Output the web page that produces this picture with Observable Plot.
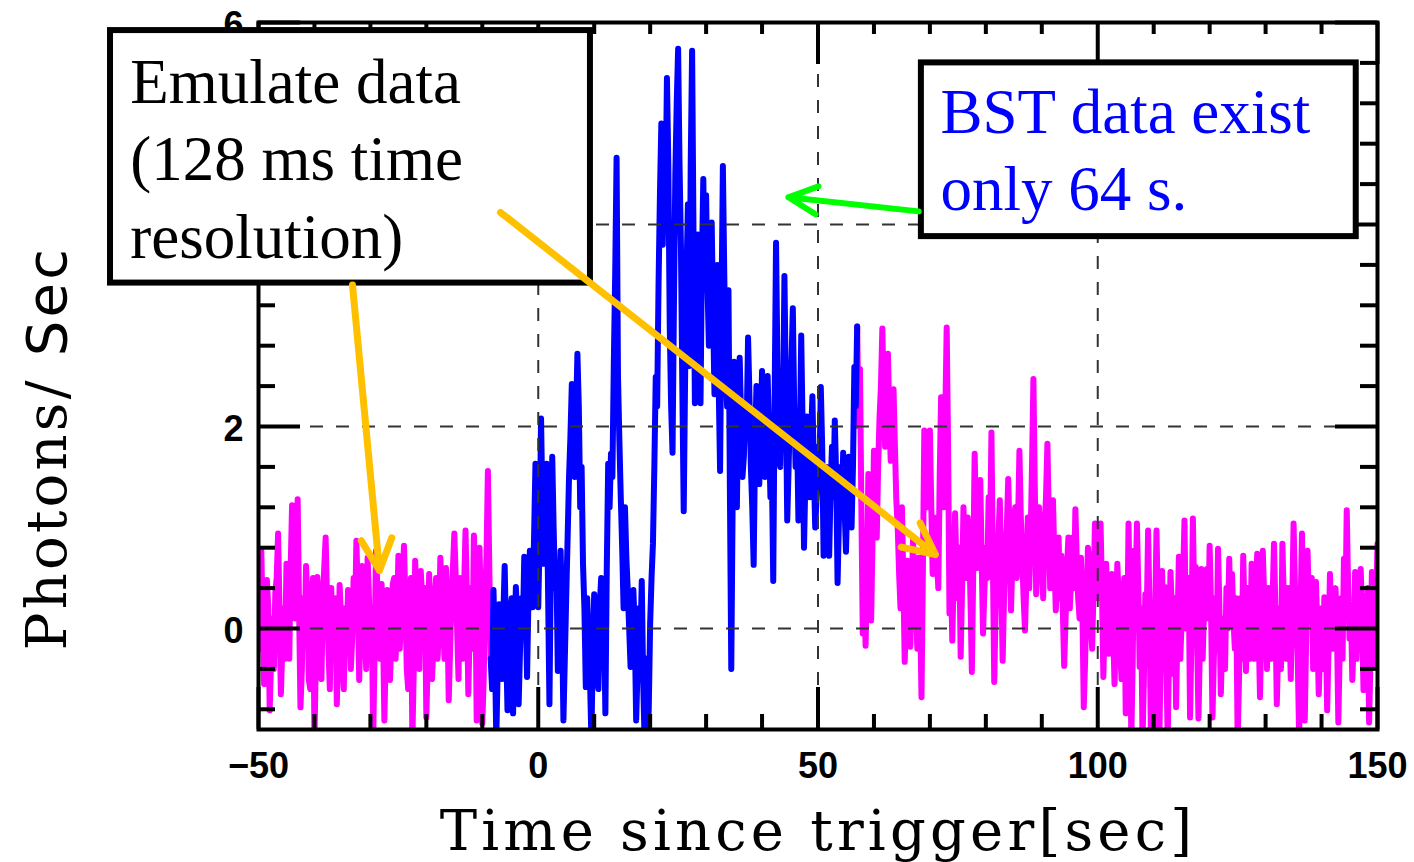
<!DOCTYPE html>
<html><head><meta charset="utf-8">
<script src="https://cdn.jsdelivr.net/npm/d3@7"></script>
<script src="https://cdn.jsdelivr.net/npm/@observablehq/plot@0.6"></script>
<style>html,body{margin:0;padding:0;background:#fff;} #chart svg{display:block}</style>
</head><body><div id="chart"></div>
<script>
// ---- data (read/estimated from the picture) ----
const sampleStep = 0.25;           // seconds between read samples
const preStart = -50;              // emulated data before BST (magenta)
const bstStart = -8.5;             // BST data (blue)
const postStart = 57;              // emulated data after BST (magenta)

const preValues = [
  0.3, -0.2, 0.77, 0.1, -0.55, -0.1, 0.48, 0.2, -0.81, -0.3, 0.1, -0.4, 0.35, 0.5, 0.94, 0.2, -0.65, -0.2, 0.2, -0.3,
  0.64, 0.4, -0.3, 0.6, 1.22, 0.5, 0.1, 0.7, 1.28, 0.2, -0.78, -0.4, 0.3, -0.1, 0.62, 0.3, -0.51, -0.6, 0.2, 0.5,
  -1.1, -0.3, 0.51, 0.3, -0.18, -0.5, 0.3, 0.6, 0.9, 0.3, -0.2, -0.6, 0.4, -0.3, 0.1, 0.3, -0.75, -0.2, 0.43, 0.1,
  -0.35, -0.6, 0.2, -0.2, 0.38, 0.1, -0.4, -0.1, 0.5, 0.1, 0.87, 0.3, -0.51, 0.0, 0.62, 0.2, 0.0, -0.4, 0.7, 0.3,
  -0.3, 0.2, -1.1, -0.2, 0.77, 0.4, 0.2, -0.3, 0.44, 0.0, -0.91, -0.2, 0.38, 0.1, -0.51, -0.1, 0.44, 0.5, -0.3, 0.1,
  0.72, -0.2, 0.2, 0.4, 0.82, 0.3, -0.4, -0.6, 0.3, 0.5, -1.1, -0.4, 0.67, 0.3, 0.1, -0.4, 0.57, 0.3, -0.2, 0.4,
  -0.88, -0.3, 0.54, 0.1, -0.5, -0.2, 0.3, 0.5, -0.3, 0.0, 0.7, 0.4, 0.1, -0.3, 0.6, 0.2, -0.71, -0.2, 0.3, 0.6,
  0.94, 0.5, 0.0, -0.5, 0.5, 0.2, -0.3, 0.4, 0.97, 0.3, -0.65, 0.0, 0.4, -0.2, 0.92, 0.5, -0.91, -0.4, 0.8, 0.2,
  -0.94, -0.5, 0.3, 0.7, 1.56, 0.6, -0.3
];
const bstValues = [
  -0.3, -0.6, 0.38, -0.2, -1.1, -0.4, 0.24, 0.0, -0.5, 0.1, 0.62, -0.1, -0.81, -0.3, 0.15, 0.3, -0.84, -0.2, 0.41, 0.1,
  -0.75, -0.2, 0.3, 0.0, 0.71, 0.2, -0.48, 0.3, 0.77, 0.5, 0.21, 0.9, 1.63, 1.0, 0.21, 0.9, 2.08, 1.2, 0.64, 1.1,
  1.63, 0.4, -0.75, 0.6, 1.7, 1.0, 0.4, 0.6, -0.42, 0.2, 0.77, 0.1, -0.91, -0.3, 0.31, 0.9, 1.5, 1.9, 2.42, 1.9,
  1.5, 2.1, 2.72, 2.2, 1.2, 1.6, 0.64, 0.2, -0.58, 0.3, -0.2, -0.5, -1.1, -0.2, 0.34, -0.1, -0.42, -0.6, 0.24, 0.5,
  -0.3, 0.1, -0.84, 0.6, 1.63, 1.2, 1.73, 1.5, 2.6, 3.5, 4.66, 2.5, 1.86, 1.3, 0.8, 0.2, 1.2, 0.7, 0.38, 0.0,
  -0.38, -0.1, 0.38, 0.0, -0.91, -0.4, 0.2, -0.2, 0.47, -0.5, -1.1, -0.3, -1.1, -0.8, 0.05, 0.5, 0.84, 1.6, 2.49, 2.2,
  3.4, 4.3, 5.0, 3.8, 4.65, 4.2, 5.45, 4.6, 3.0, 2.2, 1.74, 3.2, 4.5, 5.2, 5.74, 4.6, 3.8, 2.4, 1.16, 2.5,
  3.5, 4.2, 2.6, 4.6, 5.72, 3.9, 2.23, 3.2, 3.9, 3.0, 2.23, 3.6, 4.45, 3.5, 4.29, 3.4, 2.8, 3.6, 4.02, 3.1,
  2.32, 2.8, 3.6, 2.4, 1.56, 3.2, 4.58, 3.5, 2.6, 2.2, 3.35, 1.4, -0.4, 1.3, 2.64, 2.0, 1.2, 2.3, 2.68, 2.1,
  1.5, 1.7, 2.2, 2.0, 2.88, 2.3, 1.6, 1.2, 0.63, 1.8, 2.4, 2.0, 1.43, 1.9, 2.55, 2.1, 1.5, 1.9, 2.5, 1.9,
  1.3, 1.6, 0.47, 2.3, 3.82, 2.6, 1.8, 1.6, 2.4, 2.1, 3.49, 2.4, 1.07, 1.6, 2.2, 2.6, 3.17, 2.2, 1.6, 2.0,
  1.07, 1.8, 2.9, 2.0, 0.8, 1.5, 2.1, 1.8, 1.3, 1.9, 2.3, 1.6, 1.0, 1.3, 1.8, 1.5, 2.39, 1.8, 0.72, 1.3,
  1.6, 1.1, 0.72, 1.4, 1.8, 1.3, 2.06, 1.5, 0.45, 1.1, 1.6, 1.2, 1.74, 1.2, 0.76, 1.3, 1.7, 1.4, 1.0, 1.6,
  2.59, 2.2, 2.99
];
const postValues = [
  2.99, 2.0, 2.57, 1.2, -0.05, 0.6, -0.17, 0.5, 1.53, 0.9, 0.08, 0.9, 1.76, 1.3, 0.9, 1.6, 2.09, 2.4, 2.97, 2.3,
  1.8, 2.2, 2.72, 2.1, 1.66, 1.9, 2.37, 1.8, 1.27, 1.0, 0.54, 0.2, 1.2, 0.5, -0.33, 0.2, 0.67, 0.4, -0.18, 0.4,
  0.9, 0.1, 0.3, -0.2, 0.7, 0.2, -0.68, 0.6, 1.96, 1.5, 1.2, 1.6, 1.96, 1.2, 0.54, 1.1, 0.94, 0.7, 0.4, 1.5,
  2.29, 1.7, 1.2, 2.1, 2.98, 1.8, 0.15, 0.6, -0.12, 0.5, 1.14, 0.6, 0.3, 0.8, -0.28, 0.4, 1.2, 0.6, 0.5, 1.1,
  0.9, 0.3, -0.43, 0.6, 1.73, 1.0, 0.6, 1.1, 1.47, 0.7, -0.05, 0.4, 0.8, 0.5, 1.3, 0.9, 1.94, 0.7, -0.53, 0.2,
  0.6, 0.9, 1.27, 0.5, -0.32, 0.3, 0.8, 1.0, 1.48, 0.9, 0.18, 0.7, 1.0, 1.2, 0.5, 1.0, 1.76, 1.1, 0.7, 0.3,
  -0.02, 0.5, 1.1, 0.4, 0.9, 1.6, 2.47, 1.4, 0.34, 0.9, 1.2, 0.8, 0.61, 0.3, 1.0, 1.3, 1.83, 1.1, 0.4, 0.8,
  1.27, 0.7, 0.18, 0.5, 0.9, 0.3, 0.72, 0.2, -0.37, 0.1, 0.6, 0.9, 0.2, 0.5, 0.9, 0.4, 1.18, 0.7, 0.3, 0.1,
  0.7, 0.2, -0.78, -0.3, 0.28, 0.8, 0.6, 0.1, -0.2, 0.4, 1.04, 0.6, 0.3, 0.7, 1.04, 0.4, -0.48, 0.1, 0.64, 0.2,
  -0.25, 0.1, 0.54, 0.0, -0.55, 0.1, 0.64, 0.3, -0.2, -0.5, 0.3, 0.5, -0.84, -0.2, 1.04, 0.2, -1.1, -0.3, 0.77, 0.3,
  1.04, 0.4, -0.38, 0.2, -1.1, -0.5, 0.34, 0.1, 0.97, 0.2, -1.1, -0.4, -1.1, 0.1, 0.97, 0.2, -1.1, -0.3, 0.57, -0.2,
  0.41, -0.3, -1.1, -0.2, 0.56, 0.2, -0.45, 0.3, -0.78, 0.0, 0.71, -0.3, 0.08, 0.5, 1.07, 0.0, 0.33, 0.5, -0.88, -0.1,
  1.09, 0.3, 0.61, 0.0, -0.89, -0.2, 0.59, -0.3, 0.2, 0.4, 0.59, 0.1, 0.82, 0.2, -0.88, -0.3, 0.3, -0.2, 0.79, 0.2,
  -0.65, -0.1, 0.1, -0.4, 0.4, 0.0, 0.69, 0.1, 0.54, 0.1, -0.2, 0.3, -1.1, -0.5, 0.3, -0.3, 0.72, 0.1, -0.42, 0.4,
  0.2, -0.3, 0.64, 0.1, -0.3, 0.3, 0.74, 0.0, -0.68, 0.1, 0.77, 0.3, 0.1, -0.4, 0.4, 0.1, -0.3, 0.3, 0.84, 0.2,
  -0.75, -0.2, 0.2, -0.4, 0.84, 0.3, -0.05, -0.3, 0.4, 0.1, -0.5, 0.2, 1.04, 0.4, 0.2, -0.3, -1.1, 0.2, 0.94, 0.0,
  -0.91, -0.1, 0.77, 0.2, 0.1, 0.5, -0.4, 0.2, 0.46, 0.0, -0.65, -0.2, 0.2, -0.4, 0.31, 0.1, -0.81, -0.2, 0.54, 0.1,
  -0.2, 0.3, 0.4, 0.0, -0.93, -0.2, 0.3, -0.3, 0.69, 0.1, 1.17, 0.4, -0.1, 0.2, -0.51, -0.1, 0.56, -0.3, 0.1, 0.3,
  0.59, 0.1, -0.61, -0.2, 0.2, 0.4, -0.93, -0.3, 0.56, 0.1, -0.38, 0.2, 0.84
];

const xMajorTicks = [-50, 0, 50, 100, 150];
const xTickLabels = ["−50", "0", "50", "100", "150"];
const xMinorTicks = [-40, -30, -20, -10, 10, 20, 30, 40, 60, 70, 80, 90, 110, 120, 130, 140];
const yMajorTicks = [0, 2, 4, 6];
const yLabelTicks = [0, 2, 6];          // "4" is hidden behind the note box in the reference
const yTickLabels = ["0", "2", "6"];
const yMinorTicks = [-0.8, -0.4, 0.4, 0.8, 1.2, 1.6, 2.4, 2.8, 3.2, 3.6, 4.4, 4.8, 5.2, 5.6];
const gridX = [0, 50, 100];
const gridY = [0, 2, 4];

const xTitle = "Time since trigger[sec]";
const yTitleSerif = "Photons/ ";
const yTitleSans = "Sec";

// annotations (in data coordinates)
const noteBoxes = [
  {x1: -76.45, x2: 9.33, y1: 3.42, y2: 5.92},
  {x1: 68.48, x2: 146.2, y1: 3.88, y2: 5.60}
];
const noteEmulate = [{x: -72.9, y: 3.67, text: "Emulate data\n(128 ms time\nresolution)"}];
const noteBst = [{x: 71.9, y: 4.14, text: "BST data exist\nonly 64 s."}];
const greenArrows = [{x1: 68.0, y1: 4.13, x2: 44.71, y2: 4.27}];
const orangeArrows = [
  {x1: -33.2, y1: 3.40, x2: -28.38, y2: 0.574},
  {x1: -6.75, y1: 4.12, x2: 70.98, y2: 0.733}
];

// ---- build tables ----
const toRows = (start, values) => values.map((v, i) => ({t: start + i * sampleStep, v}));
const preRows = toRows(preStart, preValues);
const bstRows = toRows(bstStart, bstValues);
const postRows = toRows(postStart, postValues);

const W = 1414, H = 862;
const mL = 258, mR = 37, mT = 22, mB = 133;
const fw = W - mL - mR, fh = H - mT - mB;
const majorLen = 42, minorLen = 15;
const lineW = 6;

const lineOpts = {x: "t", y: "v", strokeWidth: lineW, strokeLinejoin: "round", strokeLinecap: "round", clip: true};

const chart = Plot.plot({
  width: W, height: H,
  marginLeft: mL, marginRight: mR, marginTop: mT, marginBottom: mB,
  x: {domain: [-50, 150], axis: null},
  y: {domain: [-1, 6], axis: null},
  style: {background: "white", overflow: "visible"},
  marks: [
    Plot.line(preRows, {...lineOpts, stroke: "#ff00ff"}),
    Plot.line(postRows, {...lineOpts, stroke: "#ff00ff"}),
    Plot.line(bstRows, {...lineOpts, stroke: "#0000ff"}),
    Plot.ruleX(gridX, {x: d => d, stroke: "#333", strokeWidth: 2, strokeDasharray: "13,13"}),
    Plot.ruleY(gridY, {y: d => d, stroke: "#333", strokeWidth: 2, strokeDasharray: "13,13"}),
    // ticks (inward, all four sides)
    Plot.tickX(xMajorTicks, {x: d => d, insetTop: fh - majorLen, stroke: "black", strokeWidth: 4}),
    Plot.tickX(xMajorTicks, {x: d => d, insetBottom: fh - majorLen, stroke: "black", strokeWidth: 4}),
    Plot.tickX(xMinorTicks, {x: d => d, insetTop: fh - minorLen, stroke: "black", strokeWidth: 4}),
    Plot.tickX(xMinorTicks, {x: d => d, insetBottom: fh - minorLen + 3, stroke: "black", strokeWidth: 4}),
    Plot.tickY(yMajorTicks, {y: d => d, insetRight: fw - majorLen, stroke: "black", strokeWidth: 4}),
    Plot.tickY(yMajorTicks, {y: d => d, insetLeft: fw - majorLen, stroke: "black", strokeWidth: 4}),
    Plot.tickY(yMinorTicks, {y: d => d, insetRight: fw - minorLen - 2, stroke: "black", strokeWidth: 4}),
    Plot.tickY(yMinorTicks, {y: d => d, insetLeft: fw - minorLen - 2, stroke: "black", strokeWidth: 4}),
    Plot.frame({stroke: "black", strokeWidth: 4}),
    // tick labels
    Plot.text(xMajorTicks, {x: d => d, frameAnchor: "bottom", lineAnchor: "middle", dy: 37, text: (d, i) => xTickLabels[i],
      textAnchor: "middle", fontSize: 36, fontWeight: "bold", fontFamily: "Liberation Sans, Arial, sans-serif", fill: "black"}),
    Plot.text(yLabelTicks, {y: d => d, frameAnchor: "left", lineAnchor: "middle", dx: -25, dy: 3, text: (d, i) => yTickLabels[i],
      textAnchor: "middle", fontSize: 36, fontWeight: "bold", fontFamily: "Liberation Sans, Arial, sans-serif", fill: "black"}),
    // axis titles
    Plot.text([xTitle], {frameAnchor: "bottom", lineAnchor: "bottom", textAnchor: "middle", dy: 120, text: d => d,
      fontSize: 56, fontFamily: "DejaVu Serif, serif", fill: "black"}),
    Plot.text([yTitleSerif + yTitleSans], {frameAnchor: "left", lineAnchor: "middle", textAnchor: "middle",
      dx: -210, dy: 72, rotate: -90, text: d => d, fontSize: 56, fontFamily: "DejaVu Serif, serif", fill: "black"}),
    // annotation boxes
    Plot.rect(noteBoxes, {x1: "x1", x2: "x2", y1: "y1", y2: "y2", fill: "white", stroke: "black", strokeWidth: 6}),
    Plot.text(noteEmulate, {x: "x", y: "y", text: "text", textAnchor: "start", lineAnchor: "bottom", lineHeight: 1.23,
      fontSize: 63, fontFamily: "Liberation Serif, Times New Roman, serif", fill: "black"}),
    Plot.text(noteBst, {x: "x", y: "y", text: "text", textAnchor: "start", lineAnchor: "bottom", lineHeight: 1.23,
      fontSize: 63, fontFamily: "Liberation Serif, Times New Roman, serif", fill: "#0000ff"}),
    // arrows
    Plot.arrow(greenArrows, {x1: "x1", y1: "y1", x2: "x2", y2: "y2", stroke: "#00ff00", strokeWidth: 6,
      headLength: 8, headAngle: 52, strokeLinecap: "round", strokeLinejoin: "round"}),
    Plot.arrow(orangeArrows, {x1: "x1", y1: "y1", x2: "x2", y2: "y2", stroke: "#ffc000", strokeWidth: 7,
      headLength: 7.5, headAngle: 52, strokeLinecap: "round", strokeLinejoin: "round"})
  ]
});

// typewriter-like letter pitch for the axis titles; "Sec" is set in a sans face as in the reference
chart.querySelectorAll("text").forEach(t => {
  if (t.textContent === xTitle) t.setAttribute("letter-spacing", "4.2");
  if (t.textContent === yTitleSerif + yTitleSans) {
    t.setAttribute("letter-spacing", "3.2");
    t.textContent = "";
    const ns = "http://www.w3.org/2000/svg";
    const a = document.createElementNS(ns, "tspan"); a.textContent = yTitleSerif;
    const b = document.createElementNS(ns, "tspan"); b.textContent = yTitleSans;
    b.setAttribute("font-family", "DejaVu Sans, sans-serif");
    t.appendChild(a); t.appendChild(b);
  }
});
document.getElementById("chart").appendChild(chart);
</script>
</body></html>
